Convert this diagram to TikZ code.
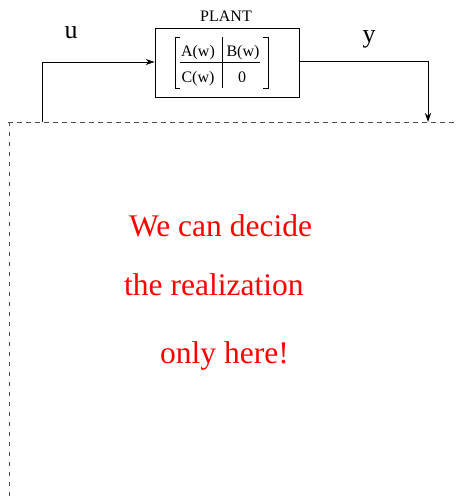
\documentclass[tikz,border=0pt]{standalone}
\usepackage{fontspec}
\setmainfont{Liberation Serif}
\usetikzlibrary{arrows.meta}
\begin{document}
\begin{tikzpicture}[x=1pt,y=-1pt,
  wire/.style={line width=0.8pt},
  tip/.style={-{Stealth[length=9pt,width=6pt]}},
  dashline/.style={line width=0.7pt, dash pattern=on 5pt off 4pt, draw=black!70},
  dashvert/.style={line width=0.7pt, dash pattern=on 4pt off 6pt, draw=black!70},
  redtext/.style={text=red, font=\fontsize{31.5}{31.5}\selectfont, anchor=base west, inner sep=0pt},
  mtext/.style={font=\fontsize{16}{16}\selectfont, anchor=base, inner sep=0pt}]
\useasboundingbox (0,0) rectangle (456,498);
% plant box
\node[draw, line width=0.8pt, minimum width=144pt, minimum height=69pt, inner sep=0pt] (plant) at (227,62.5) {};
\node[font=\fontsize{16}{16}\selectfont, anchor=base, inner sep=0pt] (plantlbl) at (226,21) {PLANT};
% matrix entries
\node[mtext] (A) at (198,56) {A(w)};
\node[mtext] (B) at (243,56) {B(w)};
\node[mtext] (C) at (198,82) {C(w)};
\node[mtext] (Z) at (242,82) {0};
% matrix brackets and lines
\draw[line width=0.8pt] (180,37) -- (175,37) -- (175,88) -- (180,88);
\draw[line width=0.8pt] (263,37) -- (268,37) -- (268,88) -- (263,88);
\draw[line width=0.8pt] (180,62) -- (260,62);
\draw[line width=0.8pt] (222,37) -- (222,88);
% dashed region boundary
\coordinate (dl) at (8,122);
\coordinate (dr) at (456,122);
\coordinate (db) at (9,498);
\draw[dashline] (dl) -- (dr);
\draw[dashvert] (9,122) -- (db);
% input
\coordinate (uin) at (42,122);
\draw[wire, tip] (uin) |- (plant.west |- 0,62);
% output
\coordinate (yout) at (428,122);
\draw[wire, tip] (plant.east |- 0,61) -| (yout);
% labels
\node[font=\fontsize{26}{26}\selectfont, anchor=base, inner sep=0pt] (ulbl) at (71,38) {u};
\node[font=\fontsize{26}{26}\selectfont, anchor=base, inner sep=0pt] (ylbl) at (369,42) {y};
% red text
\node[redtext] (t1) at (129,236) {We can decide};
\node[redtext] (t2) at (124,295) {the realization};
\node[redtext] (t3) at (160,363) {only here!};
\end{tikzpicture}
\end{document}
